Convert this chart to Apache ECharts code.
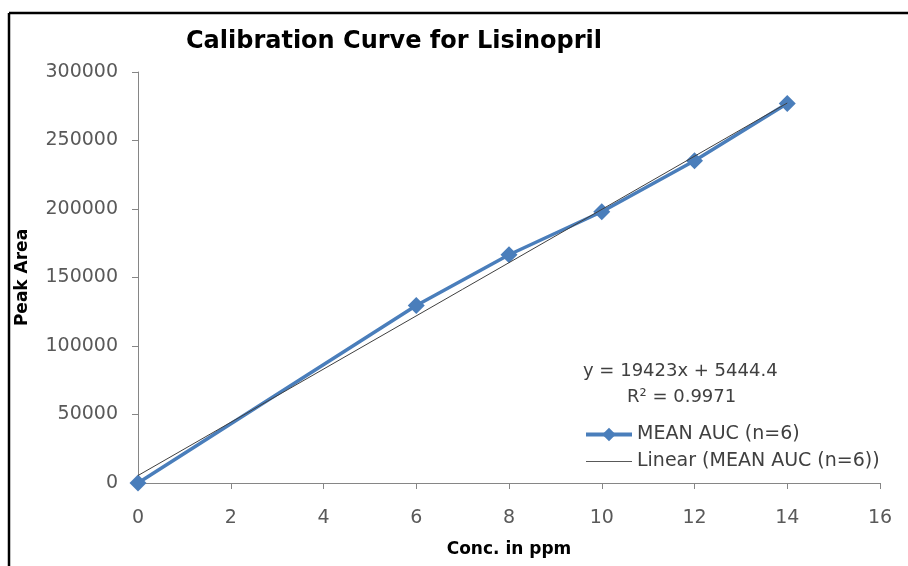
<!DOCTYPE html>
<html>
<head>
<meta charset="utf-8">
<script src="https://cdn.jsdelivr.net/npm/echarts@6/dist/echarts.min.js"></script>
<style>
html,body{margin:0;padding:0;background:#fff;}
#chart{width:908px;height:566px;}
</style>
</head>
<body>
<div id="chart"></div>
<script>
// Data
var concPpm = [0, 6, 8, 10, 12, 14];
var meanAuc = [0, 129500, 166600, 198000, 235200, 277000];
// Linear trendline endpoints (from the displayed equation y = 19423x + 5444.4)
var trendX = [0, 14];
var trendY = [5444.4, 277366.4];
var xTicks = { min: 0, max: 16, interval: 2 };
var yTicks = { min: 0, max: 300000, interval: 50000 };
var titleText = 'Calibration Curve for Lisinopril';
var xTitle = 'Conc. in ppm';
var yTitle = 'Peak Area';
var seriesName = 'MEAN AUC (n=6)';
var trendName = 'Linear (MEAN AUC (n=6))';
var eqText = 'y = 19423x + 5444.4';
var r2Text = 'R\u00B2 = 0.9971';

var FONT = 'DejaVu Sans';
var BLUE = '#4A7EBB';
var chart = echarts.init(document.getElementById('chart'), null, {renderer: 'canvas'});

var mainData = concPpm.map(function (x, i) { return [x, meanAuc[i]]; });
var trendData = trendX.map(function (x, i) { return [x, trendY[i]]; });

chart.setOption({
  animation: false,
  backgroundColor: '#ffffff',
  title: {
    text: titleText,
    left: 394, top: 30, textAlign: 'center', padding: 0,
    textStyle: { fontFamily: FONT, fontSize: 24, fontWeight: 'bold', color: '#000' }
  },
  grid: { left: 138, right: 28, top: 72, bottom: 83, containLabel: false },
  legend: {
    orient: 'vertical',
    left: 584, top: 425, padding: 0,
    itemWidth: 46, itemHeight: 17, itemGap: 8,
    textStyle: { fontFamily: FONT, fontSize: 19, color: '#404040' },
    data: [
      { name: seriesName, lineStyle: { width: 4, color: BLUE } },
      { name: trendName, itemStyle: { opacity: 0 }, lineStyle: { width: 1, color: '#595959' } }
    ]
  },
  xAxis: {
    type: 'value',
    min: xTicks.min, max: xTicks.max, interval: xTicks.interval,
    name: xTitle, nameLocation: 'middle', nameGap: 58,
    nameTextStyle: { fontFamily: FONT, fontSize: 17, fontWeight: 'bold', color: '#000' },
    axisLine: { show: true, lineStyle: { color: '#868686', width: 1 } },
    axisTick: { show: true, inside: false, length: 6, lineStyle: { color: '#868686' } },
    axisLabel: { fontFamily: FONT, fontSize: 19, color: '#595959', margin: 26 },
    splitLine: { show: false }
  },
  yAxis: {
    type: 'value',
    min: yTicks.min, max: yTicks.max, interval: yTicks.interval,
    name: yTitle, nameLocation: 'middle', nameGap: 107, nameRotate: 90,
    nameTextStyle: { fontFamily: FONT, fontSize: 17, fontWeight: 'bold', color: '#000' },
    axisLine: { show: true, lineStyle: { color: '#868686', width: 1 } },
    axisTick: { show: true, inside: false, length: 6, lineStyle: { color: '#868686' } },
    axisLabel: { fontFamily: FONT, fontSize: 19, color: '#595959', margin: 20,
      formatter: function (v) { return String(v); } },
    splitLine: { show: false }
  },
  series: [
    {
      name: seriesName,
      type: 'line',
      data: mainData,
      symbol: 'diamond',
      symbolSize: 17,
      lineStyle: { color: BLUE, width: 3.5 },
      itemStyle: { color: BLUE },
      z: 2
    },
    {
      name: trendName,
      type: 'line',
      data: trendData,
      symbol: 'none',
      lineStyle: { color: '#404040', width: 1 },
      itemStyle: { color: '#404040' },
      z: 3
    }
  ],
  graphic: [
    { type: 'line', shape: { x1: 9, y1: 13, x2: 908, y2: 13 }, style: { stroke: '#000', lineWidth: 2.5 } },
    { type: 'line', shape: { x1: 9, y1: 13, x2: 9, y2: 566 }, style: { stroke: '#000', lineWidth: 2.5 } },
    { type: 'text', left: 583, top: 362, style: { text: eqText, font: '18px "DejaVu Sans"', fill: '#404040' } },
    { type: 'text', left: 627, top: 388, style: { text: r2Text, font: '18px "DejaVu Sans"', fill: '#404040' } }
  ]
});
</script>
</body>
</html>
